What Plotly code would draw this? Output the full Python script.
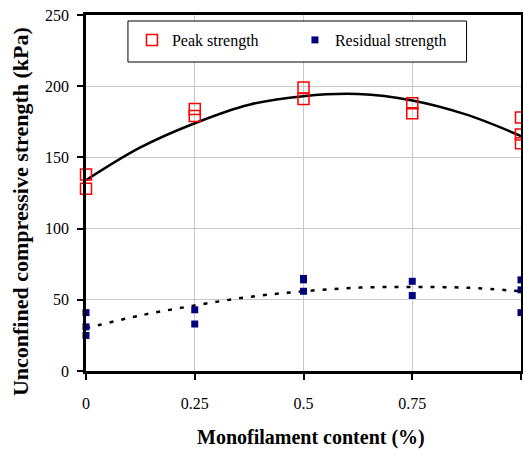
import plotly.graph_objects as go

# Data
peak_x = [0, 0, 0.25, 0.25, 0.5, 0.5, 0.75, 0.75, 1, 1, 1]
peak_y = [138, 128, 184, 179, 199, 191, 188, 181, 178, 166, 160]

resid_x = [0, 0, 0, 0.25, 0.25, 0.5, 0.5, 0.5, 0.75, 0.75, 1, 1, 1]
resid_y = [41, 31, 25, 43, 33, 65, 64, 56, 63, 53, 64, 57, 41]

trend_x = [0, 0.125, 0.25, 0.375, 0.5, 0.625, 0.75, 0.875, 1]
peak_trend = [134, 157, 174, 187, 193, 194.5, 190, 180, 165]
resid_trend = [30, 39, 46, 52, 56, 58.5, 59, 58.5, 56]

x_ticks = [0, 0.25, 0.5, 0.75, 1]
x_ticktext = ["0", "0.25", "0.5", "0.75", "1"]
y_ticks = [0, 50, 100, 150, 200, 250]

FONT = "Liberation Serif"

fig = go.Figure()

fig.add_trace(go.Scatter(
    x=trend_x, y=peak_trend, mode="lines", line=dict(color="black", width=2.5, shape="spline"),
    showlegend=False, hoverinfo="skip"))
fig.add_trace(go.Scatter(
    x=trend_x, y=resid_trend, mode="lines",
    line=dict(color="black", width=2.5, dash="4px,8px", shape="spline"),
    showlegend=False, hoverinfo="skip"))

fig.add_trace(go.Scatter(
    x=peak_x, y=peak_y, mode="markers", name="Peak strength",
    marker=dict(symbol="square-open", size=11, color="#ff0000", line=dict(width=1.5, color="#ff0000")),
    cliponaxis=False))
fig.add_trace(go.Scatter(
    x=resid_x, y=resid_y, mode="markers", name="Residual strength",
    marker=dict(symbol="square", size=7, color="#000080"),
    cliponaxis=False))

fig.update_layout(
    width=523, height=450,
    margin=dict(l=86, r=1.5, t=15, b=79),
    paper_bgcolor="white", plot_bgcolor="white",
    font=dict(family=FONT, color="black", size=16),
    showlegend=True,
    legend=dict(
        orientation="h", x=(132 - 86) / 435.5, y=(371 - 23) / 356,
        xanchor="left", yanchor="top",
        bgcolor="rgba(0,0,0,0)", borderwidth=0,
        font=dict(family=FONT, size=16, color="black"),
        entrywidth=118, itemwidth=30,
    ),
    xaxis=dict(
        range=[0, 1], tickvals=x_ticks, ticktext=x_ticktext, automargin=False,
        showgrid=True, gridcolor="#c8c8c8", gridwidth=1.2,
        showline=True, linecolor="black", linewidth=2.5, mirror=True,
        ticks="outside", ticklen=6, tickwidth=1.5, tickcolor="black",
        ticklabelstandoff=10, zeroline=False,
        tickfont=dict(family=FONT, size=16, color="black"),
    ),
    yaxis=dict(
        range=[0, 250], tickvals=y_ticks, automargin=False,
        showgrid=True, gridcolor="#c8c8c8", gridwidth=1.2,
        showline=True, linecolor="black", linewidth=2.5, mirror=True,
        ticks="outside", ticklen=6, tickwidth=1.5, tickcolor="black",
        ticklabelstandoff=5, zeroline=False,
        tickfont=dict(family=FONT, size=16, color="black"),
    ),
    shapes=[dict(
        type="rect", xref="paper", yref="paper",
        x0=(128 - 86) / 435.5, x1=(467 - 86) / 435.5,
        y0=(371 - 62) / 356, y1=(371 - 21) / 356,
        fillcolor="white", line=dict(color="black", width=1), layer="above")],
    annotations=[
        dict(text="<b>Unconfined compressive strength (kPa)</b>", xref="paper", yref="paper",
             x=(20 - 86) / 435.5, y=(371 - 212) / 356, xanchor="center", yanchor="middle",
             textangle=-90, showarrow=False, font=dict(family=FONT, size=22, color="black")),
        dict(text="<b>Monofilament content (%)</b>", xref="paper", yref="paper",
             x=(311 - 86) / 435.5, y=(371 - 437) / 356, xanchor="center", yanchor="middle",
             showarrow=False, font=dict(family=FONT, size=20, color="black")),
    ],
)

fig.write_html("out.html")
